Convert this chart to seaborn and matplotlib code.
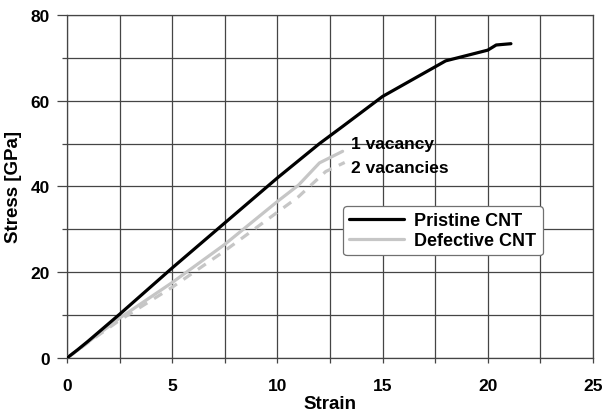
import pandas as pd
import matplotlib.pyplot as plt
import seaborn as sns
from matplotlib.ticker import MultipleLocator

# strain / stress
pristine_strain = [0, 0.5, 1, 2.5, 5, 7.5, 10, 12, 13.1, 15, 18, 20, 20.4, 21.1]
pristine_stress = [0, 1.9, 3.9, 10.2, 21, 31.5, 42, 50, 54, 61, 69.3, 71.8, 73, 73.3]

vac1_strain = [0, 0.5, 1, 2.5, 5, 7.5, 10, 11, 12, 13.1]
vac1_stress = [0, 1.8, 3.7, 9.3, 17.6, 26.5, 36.5, 40.3, 45.5, 48.2]

vac2_strain = [0, 0.5, 1, 2.5, 5, 7.5, 10, 11, 12.3, 13.2]
vac2_stress = [0, 1.8, 3.6, 8.8, 16.5, 25, 34, 37.6, 43.5, 45.6]

sns.set_style("white")
plt.rcParams['font.family'] = ['Liberation Sans', 'DejaVu Sans']
plt.rcParams['font.weight'] = 'bold'
plt.rcParams['text.color'] = 'black'
plt.rcParams['axes.labelcolor'] = 'black'

fig = plt.figure(figsize=(6.02, 4.14), dpi=100)
ax = fig.add_axes([0.1113, 0.1329, 0.8737, 0.8285])

grid_c = '#454545'
sns.lineplot(x=pristine_strain, y=pristine_stress, ax=ax, color='black', lw=2.3,
             label='Pristine CNT', zorder=4)
sns.lineplot(x=vac1_strain, y=vac1_stress, ax=ax, color='#c6c6c6', lw=2.3,
             label='Defective CNT', zorder=3)
sns.lineplot(x=vac2_strain, y=vac2_stress, ax=ax, color='#c6c6c6', lw=2.3,
             linestyle=(0, (3, 2.5)), zorder=3)

ax.set_xlim(0, 25)
ax.set_ylim(0, 80)
ax.xaxis.set_major_locator(MultipleLocator(5))
ax.xaxis.set_minor_locator(MultipleLocator(2.5))
ax.yaxis.set_major_locator(MultipleLocator(20))
ax.yaxis.set_minor_locator(MultipleLocator(10))
ax.grid(True, which='both', color=grid_c, lw=0.9)
ax.set_axisbelow(True)
for s in ax.spines.values():
    s.set_color(grid_c)
    s.set_linewidth(0.9)

ax.tick_params(axis='y', which='major', direction='out', length=7.2, width=0.9,
               color=grid_c, labelcolor='black', labelsize=12.5, pad=5, left=True)
ax.tick_params(axis='y', which='minor', direction='out', length=3.6, width=0.9,
               color=grid_c, left=True)
ax.tick_params(axis='x', which='both', direction='out', length=3.6, width=0.9,
               color=grid_c, bottom=True)
ax.tick_params(axis='x', which='major', labelcolor='black', labelsize=12.5, pad=11)
for lab in ax.get_xticklabels() + ax.get_yticklabels():
    lab.set_fontweight('bold')

ax.set_xlabel('Strain', fontsize=13.5, fontweight='bold', labelpad=1)
ax.set_ylabel('Stress [GPa]', fontsize=13.5, fontweight='bold', labelpad=6)

ax.text(13.5, 50.1, '1 vacancy', fontsize=12.5, fontweight='bold', va='center')
ax.text(13.5, 44.5, '2 vacancies', fontsize=12.5, fontweight='bold', va='center')

handles, labels = ax.get_legend_handles_labels()
leg = ax.legend(handles[:2], labels[:2], loc='upper left', bbox_to_anchor=(0.525, 0.443),
                borderaxespad=0, handlelength=3.0, handletextpad=0.6, labelspacing=0.15,
                borderpad=0.35, frameon=True, fancybox=True, framealpha=1,
                edgecolor='#707070', prop={'weight': 'bold', 'size': 13})
leg.get_frame().set_linewidth(0.9)

fig.savefig('out.png', dpi=100)
